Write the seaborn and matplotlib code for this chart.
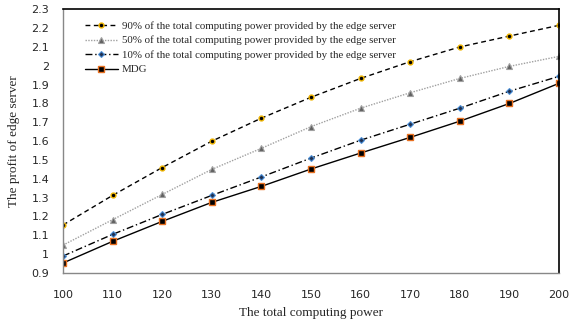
import numpy as np
import pandas as pd
import matplotlib
matplotlib.use('Agg')
import matplotlib.pyplot as plt
import seaborn as sns

# data
computing_power = [100, 110, 120, 130, 140, 150, 160, 170, 180, 190, 200]
profit_90 = [1.155, 1.312, 1.460, 1.600, 1.722, 1.833, 1.933, 2.022, 2.100, 2.158, 2.215]
profit_50 = [1.048, 1.183, 1.317, 1.450, 1.562, 1.677, 1.775, 1.857, 1.933, 1.997, 2.050]
profit_10 = [0.990, 1.105, 1.211, 1.312, 1.410, 1.510, 1.605, 1.690, 1.775, 1.865, 1.944]
profit_mdg = [0.953, 1.068, 1.174, 1.275, 1.360, 1.452, 1.537, 1.620, 1.706, 1.800, 1.907]

series_names = [
    '90% of the total computing power provided by the edge server',
    '50% of the total computing power provided by the edge server',
    '10% of the total computing power provided by the edge server',
    'MDG',
]

df = pd.DataFrame({
    'power': computing_power * 4,
    'profit': profit_90 + profit_50 + profit_10 + profit_mdg,
    'series': np.repeat(series_names, len(computing_power)),
})

sns.set_style('white')
plt.rcParams['font.family'] = ['Liberation Serif', 'DejaVu Serif']

fig = plt.figure(figsize=(5.8, 3.22), dpi=100)
ax = fig.add_axes([63 / 580, 1 - 273 / 322, 496 / 580, 263.7 / 322])

styles = {
    series_names[0]: dict(color='black', ls=(0, (3.5, 2.5)), marker='o', mfc='black', mec='#f2b600', ms=3.5, mew=1.0),
    series_names[1]: dict(color='#a0a0a0', ls=(0, (1, 1)), marker='^', mfc='#606060', mec='#a0a0a0', ms=4, mew=0.8),
    series_names[2]: dict(color='black', ls=(0, (5, 2, 1, 2)), marker='D', mfc='#1f3050', mec='#4a8fd8', ms=3, mew=0.8),
    series_names[3]: dict(color='black', ls='-', marker='s', mfc='black', mec='#e87020', ms=4, mew=1.0),
}

for name in series_names:
    sub = df[df['series'] == name]
    st = styles[name]
    sns.lineplot(data=sub, x='power', y='profit', ax=ax, color=st['color'],
                 linestyle=st['ls'], linewidth=1.0, marker=st['marker'],
                 markerfacecolor=st['mfc'], markeredgecolor=st['mec'],
                 markersize=st['ms'], markeredgewidth=st['mew'], label=name)

ax.set_xlim(100, 200)
ax.set_ylim(0.9, 2.3)
ax.set_xticks(computing_power)
ax.set_yticks(np.arange(0.9, 2.31, 0.1))
ax.set_yticklabels(['0.9', '1', '1.1', '1.2', '1.3', '1.4', '1.5', '1.6', '1.7',
                    '1.8', '1.9', '2', '2.1', '2.2', '2.3'])

for lab in ax.get_xticklabels() + ax.get_yticklabels():
    lab.set_fontfamily(['DejaVu Sans'])
    lab.set_fontsize(8)

ax.tick_params(axis='both', direction='out', length=4, width=0.8, color='#888888', pad=4)
ax.tick_params(axis='x', pad=8)
ax.tick_params(axis='y', pad=6)

for side in ['left', 'bottom']:
    ax.spines[side].set_color('#888888')
    ax.spines[side].set_linewidth(1.0)
for side in ['top', 'right']:
    ax.spines[side].set_color('black')
    ax.spines[side].set_linewidth(1.2)

ax.set_xlabel('The total computing power', fontsize=9.5, labelpad=5)
ax.set_ylabel('The profit of edge server', fontsize=9.5, labelpad=8)

ax.legend(loc='upper left', frameon=False, fontsize=7.8, handlelength=3.0,
          handletextpad=0.4, borderpad=0, borderaxespad=0, labelspacing=0.45,
          bbox_to_anchor=(22 / 496, 0.955))

fig.savefig('out.png', dpi=100)
